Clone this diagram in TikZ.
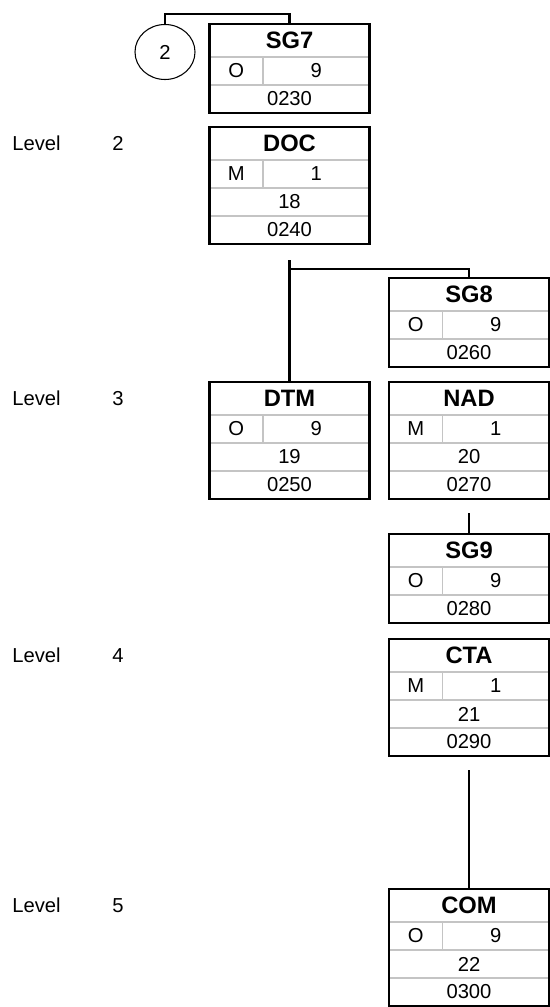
\documentclass[tikz,border=0pt]{standalone}
\usepackage{fontspec}
\setmainfont{Liberation Sans}
\usetikzlibrary{positioning,shapes.geometric}

\begin{document}
\begin{tikzpicture}[
    head/.style={
        minimum width=3.2cm, minimum height=0.66cm, inner sep=0pt, outer sep=0pt,
        font=\fontsize{13.5}{15}\selectfont\bfseries
    },
    stcell/.style={
        draw=colGrid, line width=0.8pt, minimum width=1.0667cm, minimum height=0.56cm,
        inner sep=0pt, outer sep=0pt, font=\fontsize{11.5}{13}\selectfont
    },
    repcell/.style={stcell, minimum width=2.1333cm},
    fullcell/.style={stcell, minimum width=3.2cm},
    box/.style={draw=black, line width=1.2pt},
    link/.style={draw=black, line width=1.2pt},
    refmark/.style={
        ellipse, draw, line width=0.6pt, minimum width=1.2cm, minimum height=1.1cm,
        inner sep=0pt, font=\fontsize{11.5}{13}\selectfont
    },
    lvl/.style={anchor=west, inner sep=0pt, font=\fontsize{11.5}{13}\selectfont}
]

% ============================
% COLOR DEFINITIONS
% ============================
\definecolor{colGrid}{HTML}{C4C4C4}   % light grey cell lines

\useasboundingbox (0,0) rectangle (11,-20.14);

% ============================
% LEVEL LABELS
% ============================
\node[lvl] (lvltwo) at (0.24,-2.87) {Level};
\node[lvl] (lvltwonum) at (2.24,-2.87) {2};
\node[lvl] (lvlthree) at (0.24,-7.97) {Level};
\node[lvl] (lvlthreenum) at (2.24,-7.97) {3};
\node[lvl] (lvlfour) at (0.24,-13.11) {Level};
\node[lvl] (lvlfournum) at (2.24,-13.11) {4};
\node[lvl] (lvlfive) at (0.24,-18.11) {Level};
\node[lvl] (lvlfivenum) at (2.24,-18.11) {5};

% ============================
% LEFT COLUMN (x=5.79)
% ============================

% --- Reference mark ---
\node[refmark] (ref2) at (3.30,-1.04) {2};

% --- SG7 ---
\node[head] (sg7) at (5.79,-0.81) {SG7};
\node[stcell, below right=0pt of sg7.south west] (sg7st) {O};
\node[repcell, right=0pt of sg7st] (sg7rep) {9};
\node[fullcell, below right=0pt of sg7st.south west] (sg7pos) {0230};
\draw[box] (sg7.north west) rectangle (sg7pos.south east);

% --- DOC ---
\node[head] (doc) at (5.79,-2.87) {DOC};
\node[stcell, below right=0pt of doc.south west] (docst) {M};
\node[repcell, right=0pt of docst] (docrep) {1};
\node[fullcell, below right=0pt of docst.south west] (docno) {18};
\node[fullcell, below right=0pt of docno.south west] (docpos) {0240};
\draw[box] (doc.north west) rectangle (docpos.south east);

% --- DTM ---
\node[head] (dtm) at (5.79,-7.97) {DTM};
\node[stcell, below right=0pt of dtm.south west] (dtmst) {O};
\node[repcell, right=0pt of dtmst] (dtmrep) {9};
\node[fullcell, below right=0pt of dtmst.south west] (dtmno) {19};
\node[fullcell, below right=0pt of dtmno.south west] (dtmpos) {0250};
\draw[box] (dtm.north west) rectangle (dtmpos.south east);

% ============================
% RIGHT COLUMN (x=9.38)
% ============================

% --- SG8 ---
\node[head] (sg8) at (9.38,-5.89) {SG8};
\node[stcell, below right=0pt of sg8.south west] (sg8st) {O};
\node[repcell, right=0pt of sg8st] (sg8rep) {9};
\node[fullcell, below right=0pt of sg8st.south west] (sg8pos) {0260};
\draw[box] (sg8.north west) rectangle (sg8pos.south east);

% --- NAD ---
\node[head] (nad) at (9.38,-7.97) {NAD};
\node[stcell, below right=0pt of nad.south west] (nadst) {M};
\node[repcell, right=0pt of nadst] (nadrep) {1};
\node[fullcell, below right=0pt of nadst.south west] (nadno) {20};
\node[fullcell, below right=0pt of nadno.south west] (nadpos) {0270};
\draw[box] (nad.north west) rectangle (nadpos.south east);

% --- SG9 ---
\node[head] (sg9) at (9.38,-11.01) {SG9};
\node[stcell, below right=0pt of sg9.south west] (sg9st) {O};
\node[repcell, right=0pt of sg9st] (sg9rep) {9};
\node[fullcell, below right=0pt of sg9st.south west] (sg9pos) {0280};
\draw[box] (sg9.north west) rectangle (sg9pos.south east);

% --- CTA ---
\node[head] (cta) at (9.38,-13.11) {CTA};
\node[stcell, below right=0pt of cta.south west] (ctast) {M};
\node[repcell, right=0pt of ctast] (ctarep) {1};
\node[fullcell, below right=0pt of ctast.south west] (ctano) {21};
\node[fullcell, below right=0pt of ctano.south west] (ctapos) {0290};
\draw[box] (cta.north west) rectangle (ctapos.south east);

% --- COM ---
\node[head] (com) at (9.38,-18.11) {COM};
\node[stcell, below right=0pt of com.south west] (comst) {O};
\node[repcell, right=0pt of comst] (comrep) {9};
\node[fullcell, below right=0pt of comst.south west] (comno) {22};
\node[fullcell, below right=0pt of comno.south west] (compos) {0300};
\draw[box] (com.north west) rectangle (compos.south east);

% ============================
% CONNECTORS
% ============================
\coordinate (sg7top) at (5.79,-0.28);
\draw[link] (ref2.north) |- (sg7top) -- (sg7.north);

\coordinate[below=0.32cm of docpos.south] (docout);
\coordinate[below=0.5cm of docpos.south] (docsplit);
\draw[link] (docout) -- (dtm.north);
\draw[link] (docsplit) -| (sg8.north);

\coordinate[below=0.28cm of nadpos.south] (nadout);
\draw[link] (nadout) -- (sg9.north);

\coordinate[below=0.28cm of ctapos.south] (ctaout);
\draw[link] (ctaout) -- (com.north);

\end{tikzpicture}
\end{document}
